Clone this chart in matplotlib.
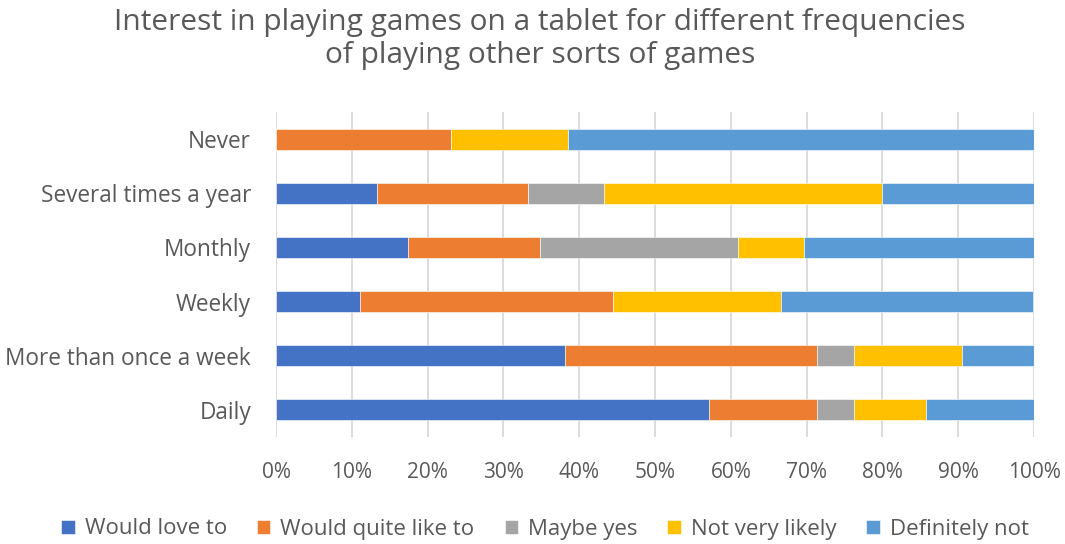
import numpy as np
import matplotlib.pyplot as plt
from matplotlib.ticker import PercentFormatter

plt.rcParams['font.family'] = ['Open Sans', 'DejaVu Sans']

# Frequency groups, bottom to top
categories = ['Daily', 'More than once a week', 'Weekly', 'Monthly',
              'Several times a year', 'Never']

# Share of respondents (%) per answer, same order as categories
would_love = [57.1, 38.1, 11.1, 17.4, 13.3, 0.0]
quite_like = [14.3, 33.3, 33.3, 17.4, 20.0, 23.1]
maybe_yes = [4.8, 4.8, 0.0, 26.1, 10.0, 0.0]
not_very_likely = [9.5, 14.3, 22.2, 8.7, 36.7, 15.4]
definitely_not = [14.3, 9.5, 33.3, 30.4, 20.0, 61.5]

series = [
    ('Would love to', would_love, '#4472C4'),
    ('Would quite like to', quite_like, '#ED7D31'),
    ('Maybe yes', maybe_yes, '#A5A5A5'),
    ('Not very likely', not_very_likely, '#FFC000'),
    ('Definitely not', definitely_not, '#5B9BD5'),
]

text_col = '#595959'

fig = plt.figure(figsize=(10.65, 5.44), dpi=100)
ax = fig.add_axes([0.2592, 0.197, 0.7117, 0.597])

y = np.arange(len(categories))
left = np.zeros(len(categories))
for name, vals, col in series:
    vals = np.array(vals)
    ax.barh(y, vals, left=left, height=0.39, color=col, label=name,
            edgecolor='white', linewidth=0.4, zorder=3)
    left += vals

ax.set_xlim(0, 100)
ax.set_ylim(-0.5, len(categories) - 0.5)
ax.set_xticks(np.arange(0, 101, 10))
ax.xaxis.set_major_formatter(PercentFormatter(decimals=0))
ax.set_yticks(y)
ax.set_yticklabels(categories)
ax.tick_params(axis='x', length=0, labelsize=15, colors=text_col, pad=18)
ax.tick_params(axis='y', length=0, labelsize=16.3, colors=text_col, pad=18)
ax.grid(axis='x', color='#D9D9D9', linewidth=1.3, zorder=0)
for s in ax.spines.values():
    s.set_visible(False)

fig.text(540 / 1065, 1 - 39 / 544,
         'Interest in playing games on a tablet for different frequencies\nof playing other sorts of games',
         ha='center', va='center', fontsize=21.5, color=text_col, linespacing=1.2)

fig.legend(loc='center', bbox_to_anchor=(545 / 1065, 1 - 529 / 544), ncol=5,
           frameon=False, fontsize=16, labelcolor=text_col,
           handlelength=0.6, handleheight=0.6, handletextpad=0.45,
           columnspacing=1.35)

fig.savefig('out.png', dpi=100)
